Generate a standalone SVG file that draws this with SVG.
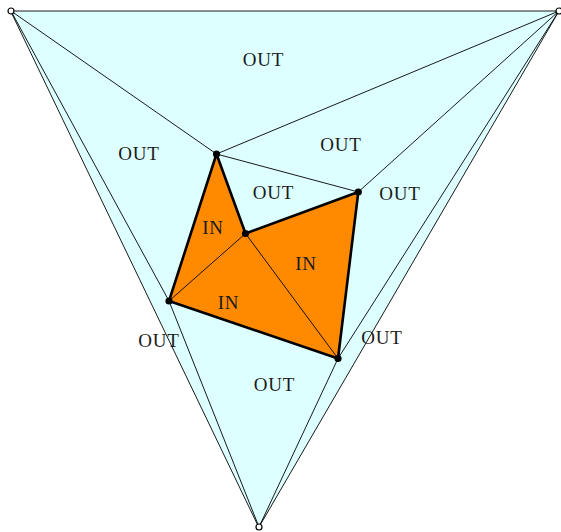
<svg xmlns="http://www.w3.org/2000/svg" width="561" height="532" viewBox="0 0 561 532">
<style>
.thin{stroke:#000;stroke-width:0.9;fill:none;stroke-linecap:round}
.bold{stroke:#000;stroke-width:2.6;fill:none;stroke-linejoin:round;stroke-linecap:round}
.lbl{font-family:"Liberation Serif","DejaVu Serif",serif;font-size:19px;fill:#1a1a1a;text-anchor:middle;letter-spacing:0.8px}
.dot{fill:#000}
.ring{fill:#fff;stroke:#000;stroke-width:1.2}
</style>
<rect width="561" height="532" fill="#fff"/>
<g id="regions">
<polygon points="11,11 559,11 259,527" fill="#ddffff"/>
<polygon points="216.5,154 245.5,233.5 358.3,192 338,358.5 169,301" fill="#ff8a00"/>
</g>
<g id="connectors">
<polygon class="thin" points="11,11 559,11 259,527"/>
<line class="thin" x1="11" y1="11" x2="216.5" y2="154"/>
<line class="thin" x1="559" y1="11" x2="216.5" y2="154"/>
<line class="thin" x1="559" y1="11" x2="358.3" y2="192"/>
<line class="thin" x1="559" y1="11" x2="338" y2="358.5"/>
<line class="thin" x1="11" y1="11" x2="169" y2="301"/>
<line class="thin" x1="259" y1="527" x2="169" y2="301"/>
<line class="thin" x1="259" y1="527" x2="338" y2="358.5"/>
<line class="thin" x1="216.5" y1="154" x2="358.3" y2="192"/>
<line class="thin" x1="245.5" y1="233.5" x2="169" y2="301"/>
<line class="thin" x1="245.5" y1="233.5" x2="338" y2="358.5"/>
<polygon class="bold" points="216.5,154 245.5,233.5 358.3,192 338,358.5 169,301"/>
</g>
<g id="nodeA"><circle class="ring" cx="11" cy="11" r="3"/></g>
<g id="nodeB"><circle class="ring" cx="559" cy="11" r="3"/></g>
<g id="nodeC"><circle class="ring" cx="259" cy="527" r="3"/></g>
<g id="node1"><circle class="dot" cx="216.5" cy="154" r="3.6"/></g>
<g id="node2"><circle class="dot" cx="358.3" cy="192" r="3.6"/></g>
<g id="node3"><circle class="dot" cx="245.5" cy="233.5" r="3.6"/></g>
<g id="node4"><circle class="dot" cx="169" cy="301" r="3.6"/></g>
<g id="node5"><circle class="dot" cx="338" cy="358.5" r="3.6"/></g>
<g id="labels">
<text class="lbl" x="263.5" y="65.5">OUT</text>
<text class="lbl" x="139" y="160">OUT</text>
<text class="lbl" x="341" y="151">OUT</text>
<text class="lbl" x="273.5" y="199">OUT</text>
<text class="lbl" x="400" y="199.5">OUT</text>
<text class="lbl" x="213" y="234">IN</text>
<text class="lbl" x="306" y="270">IN</text>
<text class="lbl" x="228.5" y="309">IN</text>
<text class="lbl" x="159" y="346.5">OUT</text>
<text class="lbl" x="382" y="344">OUT</text>
<text class="lbl" x="274.5" y="391">OUT</text>
</g>
</svg>
